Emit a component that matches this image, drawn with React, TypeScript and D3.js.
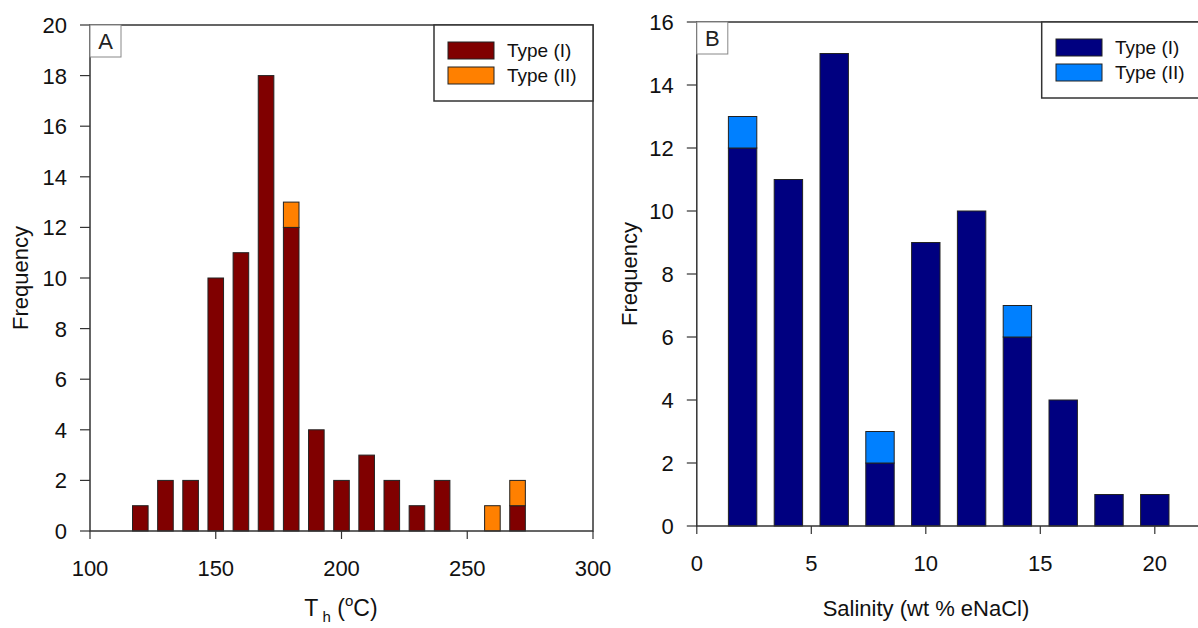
import React from "react";
import * as d3 from "d3";

const tempBins = [120, 130, 140, 150, 160, 170, 180, 190, 200, 210, 220, 230, 240, 250, 260, 270];
const tempType1 = [1, 2, 2, 10, 11, 18, 12, 4, 2, 3, 2, 1, 2, 0, 0, 1];
const tempType2 = [0, 0, 0, 0, 0, 0, 1, 0, 0, 0, 0, 0, 0, 0, 1, 1];
const tempTicksX = [100, 150, 200, 250, 300];
const tempTicksY = [0, 2, 4, 6, 8, 10, 12, 14, 16, 18, 20];

const salBins = [2, 4, 6, 8, 10, 12, 14, 16, 18, 20];
const salType1 = [12, 11, 15, 2, 9, 10, 6, 4, 1, 1];
const salType2 = [1, 0, 0, 1, 0, 0, 1, 0, 0, 0];
const salTicksX = [0, 5, 10, 15, 20];
const salTicksY = [0, 2, 4, 6, 8, 10, 12, 14, 16];

const seriesNames = ["Type (I)", "Type (II)"];
const FONT = "'Liberation Sans', Arial, sans-serif";

type PanelProps = {
  bins: number[];
  t1: number[];
  t2: number[];
  xDomain: [number, number];
  yDomain: [number, number];
  xTicks: number[];
  yTicks: number[];
  binWidth: number;
  left: number;
  right: number;
  top: number;
  bottom: number;
  colors: [string, string];
  letter: string;
  legend: { x0: number; x1: number; y1: number; sx: number; sy: number };
  yTitleX: number;
  xTitle: React.ReactNode;
};

function Panel(p: PanelProps) {
  const x = d3.scaleLinear().domain(p.xDomain).range([p.left, p.right]);
  const y = d3.scaleLinear().domain(p.yDomain).range([p.bottom, p.top]);
  const bw = (x(p.binWidth) - x(0)) * 0.62;
  const axisColor = "#333";
  return (
    <g>
      {p.bins.map((b, i) => {
        const v1 = p.t1[i];
        const v2 = p.t2[i];
        const cx = x(b);
        return (
          <g key={b}>
            {v1 > 0 && (
              <rect x={cx - bw / 2} y={y(v1)} width={bw} height={y(0) - y(v1)} fill={p.colors[0]} stroke="#222" strokeWidth={1} />
            )}
            {v2 > 0 && (
              <rect x={cx - bw / 2} y={y(v1 + v2)} width={bw} height={y(v1) - y(v1 + v2)} fill={p.colors[1]} stroke="#222" strokeWidth={1} />
            )}
          </g>
        );
      })}
      <rect x={p.left} y={p.top} width={p.right - p.left} height={p.bottom - p.top} fill="none" stroke={axisColor} strokeWidth={1.5} />
      {p.yTicks.map((t) => (
        <g key={"y" + t}>
          <line x1={p.left - 10} x2={p.left} y1={y(t)} y2={y(t)} stroke={axisColor} strokeWidth={1.2} />
          <text x={p.left - 23} y={y(t)} dy="0.36em" textAnchor="end" fontSize={22} fontFamily={FONT} fill="#111">
            {t}
          </text>
        </g>
      ))}
      {p.xTicks.map((t) => (
        <g key={"x" + t}>
          <line x1={x(t)} x2={x(t)} y1={p.bottom} y2={p.bottom + 8} stroke={axisColor} strokeWidth={1.2} />
          <text x={x(t)} y={p.bottom + 45} textAnchor="middle" fontSize={22} fontFamily={FONT} fill="#111">
            {t}
          </text>
        </g>
      ))}
      <rect x={p.left} y={p.top} width={31} height={32} fill="white" stroke="#888" strokeWidth={1} />
      <text x={p.left + 15.5} y={p.top + 24} textAnchor="middle" fontSize={22} fontFamily={FONT} fill="#222">
        {p.letter}
      </text>
      <rect x={p.legend.x0} y={p.top} width={p.legend.x1 - p.legend.x0} height={p.legend.y1 - p.top} fill="white" stroke={axisColor} strokeWidth={1.5} />
      {seriesNames.map((name, i) => (
        <g key={name}>
          <rect x={p.legend.sx} y={p.legend.sy + i * 25} width={46} height={17} fill={p.colors[i]} stroke="#222" strokeWidth={1} />
          <text x={p.legend.sx + 59} y={p.legend.sy + i * 25 + 15} fontSize={19} fontFamily={FONT} fill="#111">
            {name}
          </text>
        </g>
      ))}
      <text transform={`translate(${p.yTitleX},${(p.top + p.bottom) / 2}) rotate(-90)`} textAnchor="middle" fontSize={22} fontFamily={FONT} fill="#111">
        Frequency
      </text>
      {p.xTitle}
    </g>
  );
}

export default function App() {
  return (
    <svg width={1198} height={628} style={{ position: "absolute", left: 0, top: 0, background: "white" }}>
      <Panel
        bins={tempBins}
        t1={tempType1}
        t2={tempType2}
        xDomain={[100, 300]}
        yDomain={[0, 20]}
        xTicks={tempTicksX}
        yTicks={tempTicksY}
        binWidth={10}
        left={90}
        right={593}
        top={25}
        bottom={531}
        colors={["#800000", "#FF8000"]}
        letter="A"
        legend={{ x0: 434, x1: 593, y1: 101, sx: 448, sy: 42 }}
        yTitleX={28}
        xTitle={
          <text x={341} y={616} textAnchor="middle" fontSize={23} fontFamily={FONT} fill="#111">
            T
            <tspan fontSize={15} dy={6}>{"\u00A0h"}</tspan>
            <tspan dy={-6}>{"\u00A0("}</tspan>
            <tspan fontSize={15} dy={-10}>o</tspan>
            <tspan dy={10}>C)</tspan>
          </text>
        }
      />
      <Panel
        bins={salBins}
        t1={salType1}
        t2={salType2}
        xDomain={[0, 22]}
        yDomain={[0, 16]}
        xTicks={salTicksX}
        yTicks={salTicksY}
        binWidth={2}
        left={696.8}
        right={1200.6}
        top={22}
        bottom={526}
        colors={["#000080", "#0080FF"]}
        letter="B"
        legend={{ x0: 1041.7, x1: 1215, y1: 98, sx: 1056, sy: 39 }}
        yTitleX={636.7}
        xTitle={
          <text x={926} y={616} textAnchor="middle" fontSize={22} fontFamily={FONT} fill="#111">
            Salinity (wt % eNaCl)
          </text>
        }
      />
    </svg>
  );
}
